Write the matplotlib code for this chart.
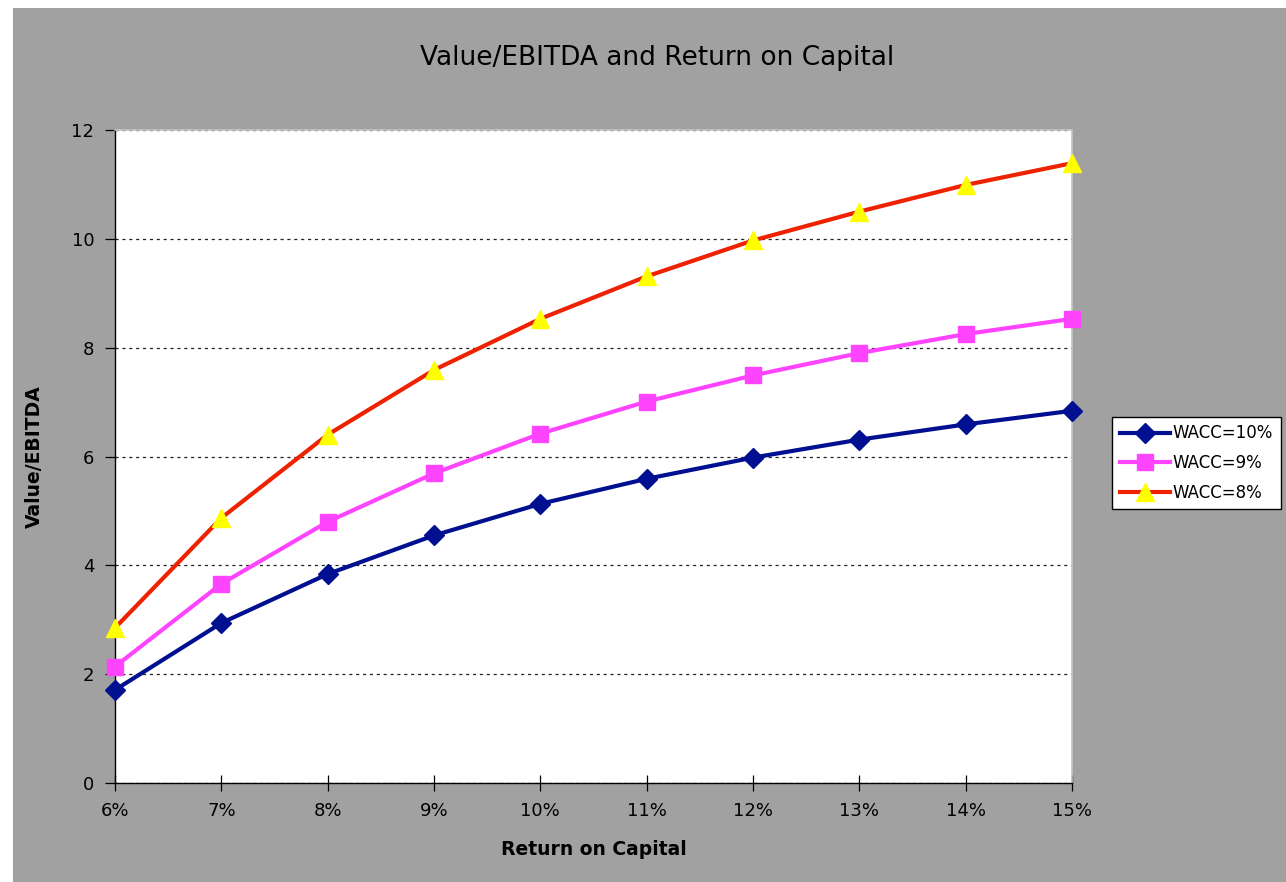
import matplotlib.pyplot as plt
from matplotlib.patches import Rectangle
from matplotlib.ticker import FuncFormatter

# Value/EBITDA multiple against return on capital, one line per cost of capital
roc = [6, 7, 8, 9, 10, 11, 12, 13, 14, 15]
wacc_10 = [1.71, 2.94, 3.84, 4.55, 5.13, 5.59, 5.98, 6.31, 6.59, 6.84]
wacc_9 = [2.14, 3.66, 4.80, 5.69, 6.42, 7.01, 7.49, 7.90, 8.25, 8.53]
wacc_8 = [2.85, 4.87, 6.40, 7.59, 8.53, 9.31, 9.97, 10.50, 10.99, 11.39]

bg = '#a1a1a1'
font = ['Liberation Sans Narrow', 'DejaVu Sans']

fig = plt.figure(figsize=(12.86, 8.82), dpi=100, facecolor='white')
fig.patches.append(Rectangle((13 / 1286, 0), 1, 1 - 8 / 882, transform=fig.transFigure,
                             facecolor=bg, edgecolor='none', zorder=-5))

ax = fig.add_axes([115 / 1286, 1 - 783 / 882, (1072 - 115) / 1286, (783 - 130) / 882])
ax.set_facecolor('white')

ax.plot(roc, wacc_10, color='#001090', lw=3, marker='D', ms=10, label='WACC=10%', clip_on=False, zorder=3)
ax.plot(roc, wacc_9, color='#ff44ff', lw=3, marker='s', ms=12, label='WACC=9%', clip_on=False, zorder=3)
ax.plot(roc, wacc_8, color='#ee2200', lw=3, marker='^', ms=13, mfc='#ffff00', mec='#ffff00',
        label='WACC=8%', clip_on=False, zorder=4)

ax.set_xlim(6, 15)
ax.set_ylim(0, 12)
ax.set_xticks(roc)
ax.set_yticks(range(0, 13, 2))
ax.xaxis.set_major_formatter(FuncFormatter(lambda v, p: f'{v:.0f}%'))
ax.yaxis.grid(True, color='#222222', linestyle=(0, (2.5, 3)), lw=0.9)
ax.set_axisbelow(True)

for side in ('top', 'right'):
    ax.spines[side].set_color('#c4c4c4')
    ax.spines[side].set_linewidth(1.2)
for side in ('left', 'bottom'):
    ax.spines[side].set_color('black')
    ax.spines[side].set_linewidth(1.0)

ax.tick_params(axis='x', direction='inout', length=12, width=0.9, pad=8, labelsize=13)
ax.tick_params(axis='y', direction='out', length=7, width=0.9, pad=8, labelsize=13)

fig.text(0.511, 0.934, 'Value/EBITDA and Return on Capital', ha='center', va='center',
         fontsize=19, family=font)
ax.set_xlabel('Return on Capital', fontsize=13.5, fontweight='bold', family=font, labelpad=14)
ax.set_ylabel('Value/EBITDA', fontsize=13.5, fontweight='bold', family=font, labelpad=20)

leg = fig.legend(loc='upper left', bbox_to_anchor=(1112 / 1286, 1 - 417 / 882),
                 frameon=True, fancybox=False, fontsize=12, handlelength=3.0,
                 handletextpad=0.2, borderpad=0.45, labelspacing=0.7, borderaxespad=0)
leg.get_frame().set_edgecolor('black')
leg.get_frame().set_facecolor('white')
leg.get_frame().set_alpha(1)
leg.get_frame().set_linewidth(1.0)

fig.savefig('out.png', dpi=100, facecolor=fig.get_facecolor())
